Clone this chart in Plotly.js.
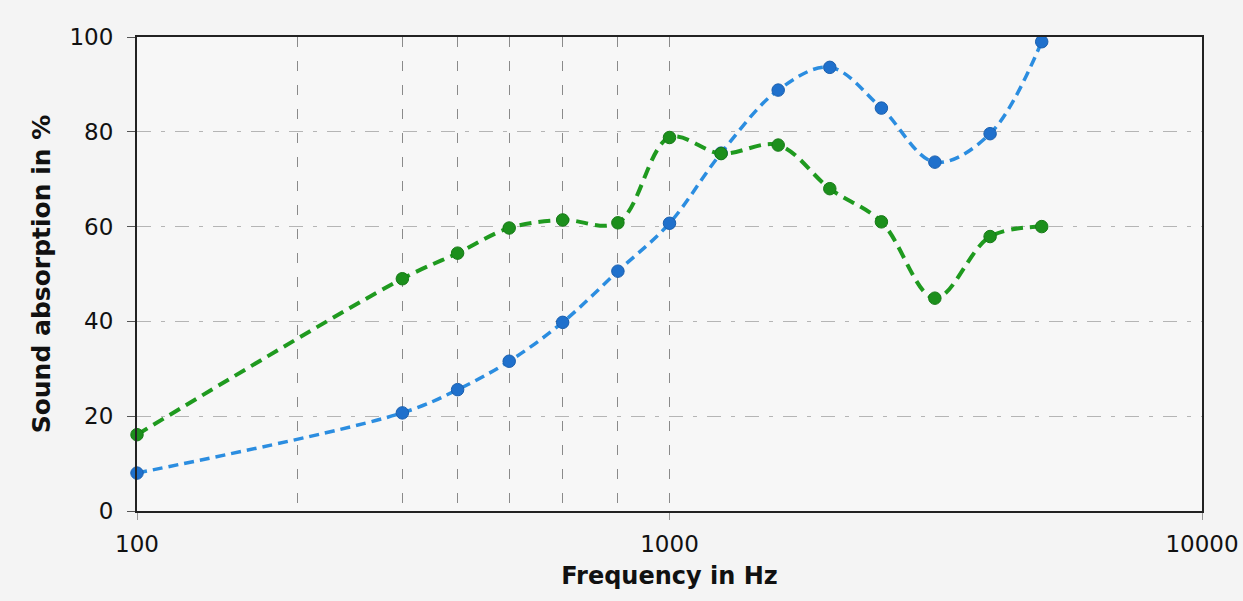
<!DOCTYPE html>
<html>
<head>
<meta charset="utf-8">
<script src="https://cdn.plot.ly/plotly-3.0.1.min.js"></script>
<style>
  html, body { margin: 0; padding: 0; background: #f4f4f4; }
  #chart { width: 1243px; height: 601px; }
</style>
</head>
<body>
<div id="chart"></div>
<script>
// Frequencies (Hz), 1/3-octave bands
const frequency = [100, 315, 400, 500, 630, 800, 1000, 1250, 1600, 2000, 2500, 3150, 4000, 5000];
// Sound absorption in % — blue series
const absorptionBlue = [8, 20.7, 25.6, 31.6, 39.8, 50.6, 60.7, 75.5, 88.8, 93.6, 85, 73.6, 79.6, 99];
// Sound absorption in % — green series
const absorptionGreen = [16.1, 49, 54.4, 59.7, 61.4, 60.8, 78.8, 75.4, 77.2, 68, 61, 44.9, 57.9, 60];

// Axis ticks
const xTickVals = [100, 1000, 10000];
const xTickText = ['100', '1000', '10000'];
const xGridVals = [200, 315, 400, 500, 630, 800];
const yTickVals = [0, 20, 40, 60, 80, 100];

const FONT = 'DejaVu Sans, Verdana, sans-serif';

const traces = [
  {
    x: frequency, y: absorptionBlue, type: 'scatter', mode: 'lines+markers',
    line: { color: '#2b8de0', width: 3.5, dash: '10px,6px', shape: 'spline', smoothing: 1 },
    marker: { color: '#1f70cc', size: 12.5, line: { color: '#1a5fae', width: 1 } },
    cliponaxis: false, showlegend: false
  },
  {
    x: frequency, y: absorptionGreen, type: 'scatter', mode: 'lines+markers',
    line: { color: '#1f9a1f', width: 4, dash: '12px,7px', shape: 'spline', smoothing: 1 },
    marker: { color: '#1c8f1c', size: 12.5, line: { color: '#167a16', width: 1 } },
    cliponaxis: false, showlegend: false
  }
];

const layout = {
  width: 1243, height: 601,
  margin: { l: 137, r: 41, t: 37, b: 90 },
  paper_bgcolor: '#f4f4f4',
  plot_bgcolor: '#f7f7f7',
  font: { family: FONT, color: '#111' },
  xaxis: {
    type: 'log', range: [2, 4],
    tickmode: 'array', tickvals: xTickVals, ticktext: xTickText,
    ticks: 'outside', ticklen: 7, tickcolor: '#999', tickwidth: 1,
    ticklabelstandoff: 4,
    tickfont: { size: 23, family: FONT, color: '#111' },
    showgrid: true, gridcolor: '#8a8a8a', gridwidth: 1, griddash: '10px,14px',
    minor: { tickmode: 'array', tickvals: xGridVals, ticks: '', showgrid: true,
             gridcolor: '#8a8a8a', gridwidth: 1, griddash: '10px,14px' },
    showline: true, linecolor: '#222', linewidth: 2, mirror: true,
    zeroline: false,
    title: { text: 'Frequency in Hz', standoff: 12,
             font: { size: 24, family: FONT, weight: 'bold', color: '#111' } }
  },
  yaxis: {
    range: [0, 100], tickmode: 'array', tickvals: yTickVals,
    ticks: 'outside', ticklen: 8, tickcolor: '#555', tickwidth: 1,
    ticklabelstandoff: 9,
    tickfont: { size: 23, family: FONT, color: '#111' },
    showgrid: true, gridcolor: '#b5b5b5', gridwidth: 1, griddash: '14px,10px,4px,10px',
    showline: true, linecolor: '#222', linewidth: 2, mirror: true,
    zeroline: false,
    title: { text: 'Sound absorption in %', standoff: 12,
             font: { size: 25, family: FONT, weight: 'bold', color: '#111' } }
  }
};

Plotly.newPlot('chart', traces, layout, { displayModeBar: false, staticPlot: true });
</script>
</body>
</html>
